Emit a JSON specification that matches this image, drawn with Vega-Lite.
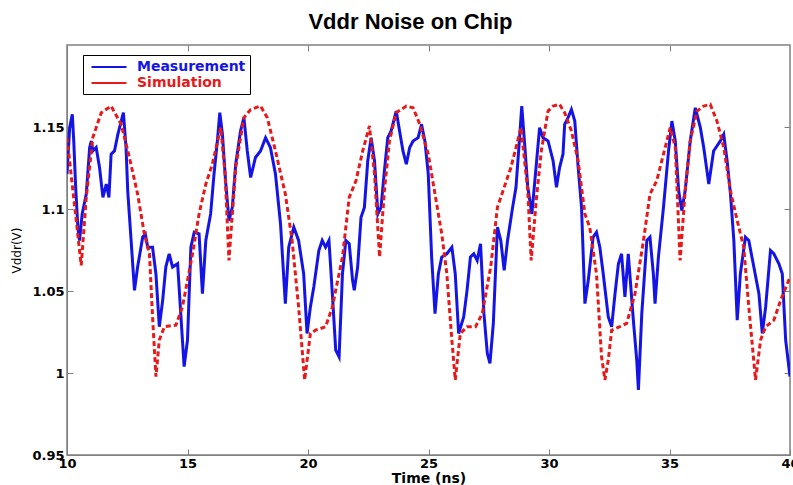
{
  "$schema": "https://vega.github.io/schema/vega-lite/v6.json",
  "width": 723,
  "height": 410,
  "autosize": {"type": "none"},
  "padding": {"left": 67, "top": 45, "right": 3, "bottom": 30},
  "background": "white",
  "title": {"text": "Vddr Noise on Chip", "font": "Liberation Sans", "fontSize": 22, "fontWeight": "bold", "color": "black", "offset": 11, "dx": -18},
  "config": {"view": {"stroke": "#808080", "strokeWidth": 1.5}},
  "datasets": {
    "sim": [
      {"t":10.00,"v":1.1435},{"t":10.59,"v":1.0656},{"t":10.80,"v":1.1071},{"t":11.07,"v":1.1435},{"t":11.42,"v":1.1587},{"t":11.83,"v":1.1628},{"t":12.25,"v":1.1516},{"t":12.59,"v":1.1314},{"t":12.93,"v":1.1091},{"t":13.21,"v":1.0848},{"t":13.42,"v":1.0727},{"t":13.55,"v":1.0342},{"t":13.69,"v":0.9978},{"t":13.83,"v":1.0201},{"t":14.04,"v":1.0282},{"t":14.52,"v":1.0292},{"t":14.79,"v":1.0403},{"t":15.21,"v":1.0727},{"t":15.48,"v":1.0970},{"t":15.76,"v":1.1152},{"t":16.03,"v":1.1273},{"t":16.38,"v":1.1496},{"t":16.56,"v":1.1213},{"t":16.72,"v":1.0686},{"t":17.00,"v":1.1253},{"t":17.34,"v":1.1557},{"t":17.62,"v":1.1607},{"t":18.03,"v":1.1628},{"t":18.31,"v":1.1557},{"t":18.65,"v":1.1354},{"t":19.06,"v":1.1091},{"t":19.34,"v":1.0808},{"t":19.61,"v":1.0403},{"t":19.86,"v":0.9958},
      {"t":20.10,"v":1.0241},{"t":20.31,"v":1.0261},{"t":20.73,"v":1.0282},{"t":21.01,"v":1.0403},{"t":21.43,"v":1.0707},{"t":21.71,"v":1.1071},{"t":21.99,"v":1.1172},{"t":22.27,"v":1.1354},{"t":22.55,"v":1.1506},{"t":22.76,"v":1.1213},{"t":22.97,"v":1.0707},{"t":23.17,"v":1.1111},{"t":23.38,"v":1.1415},{"t":23.66,"v":1.1587},{"t":24.08,"v":1.1628},{"t":24.36,"v":1.1617},{"t":24.64,"v":1.1516},{"t":24.99,"v":1.1334},{"t":25.27,"v":1.1091},{"t":25.55,"v":1.0848},{"t":25.76,"v":1.0605},{"t":25.97,"v":1.0201},{"t":26.11,"v":0.9958},{"t":26.32,"v":1.0241},{"t":26.60,"v":1.0282},{"t":26.95,"v":1.0282},{"t":27.23,"v":1.0362},{"t":27.58,"v":1.0646},{"t":27.86,"v":1.1010},{"t":28.14,"v":1.1132},{"t":28.42,"v":1.1253},{"t":28.84,"v":1.1496},{"t":29.12,"v":1.1111},{"t":29.26,"v":1.0686},{"t":29.47,"v":1.1051},{"t":29.68,"v":1.1354},{"t":29.96,"v":1.1597},
      {"t":30.17,"v":1.1628},{"t":30.44,"v":1.1638},{"t":30.65,"v":1.1587},{"t":30.93,"v":1.1476},{"t":31.21,"v":1.1294},{"t":31.49,"v":1.0970},{"t":31.69,"v":1.0889},{"t":31.97,"v":1.0605},{"t":32.18,"v":1.0099},{"t":32.32,"v":0.9958},{"t":32.46,"v":1.0079},{"t":32.60,"v":1.0261},{"t":32.94,"v":1.0282},{"t":33.22,"v":1.0302},{"t":33.57,"v":1.0484},{"t":33.92,"v":1.0808},{"t":34.19,"v":1.1091},{"t":34.47,"v":1.1172},{"t":34.75,"v":1.1334},{"t":35.03,"v":1.1496},{"t":35.24,"v":1.1375},{"t":35.44,"v":1.0686},{"t":35.65,"v":1.1111},{"t":35.86,"v":1.1415},{"t":36.14,"v":1.1597},{"t":36.42,"v":1.1628},{"t":36.69,"v":1.1638},{"t":36.97,"v":1.1536},{"t":37.25,"v":1.1375},{"t":37.53,"v":1.1111},{"t":37.81,"v":1.0929},{"t":38.08,"v":1.0767},{"t":38.29,"v":1.0403},{"t":38.57,"v":0.9958},{"t":38.78,"v":1.0201},{"t":38.99,"v":1.0282},{"t":39.33,"v":1.0322},{"t":39.61,"v":1.0443},{"t":40.00,"v":1.0585}
    ],
    "meas": [
      {"t":10.00,"v":1.1213},{"t":10.11,"v":1.1496},{"t":10.22,"v":1.1577},{"t":10.28,"v":1.1415},{"t":10.36,"v":1.1132},{"t":10.45,"v":1.0889},{"t":10.52,"v":1.0808},{"t":10.63,"v":1.0970},{"t":10.80,"v":1.1091},{"t":10.94,"v":1.1375},{"t":11.01,"v":1.1415},{"t":11.07,"v":1.1354},{"t":11.21,"v":1.1375},{"t":11.35,"v":1.1253},{"t":11.49,"v":1.1071},{"t":11.63,"v":1.1152},{"t":11.74,"v":1.1071},{"t":11.83,"v":1.1334},{"t":11.97,"v":1.1354},{"t":12.11,"v":1.1455},{"t":12.25,"v":1.1536},{"t":12.34,"v":1.1587},{"t":12.45,"v":1.1375},{"t":12.52,"v":1.1111},{"t":12.66,"v":1.0808},{"t":12.80,"v":1.0504},{"t":12.93,"v":1.0646},{"t":13.14,"v":1.0828},{"t":13.25,"v":1.0848},{"t":13.35,"v":1.0767},{"t":13.55,"v":1.0767},{"t":13.69,"v":1.0605},{"t":13.83,"v":1.0282},{"t":13.97,"v":1.0443},{"t":14.10,"v":1.0646},{"t":14.24,"v":1.0727},{"t":14.38,"v":1.0646},{"t":14.59,"v":1.0666},{"t":14.72,"v":1.0362},{"t":14.86,"v":1.0039},{"t":15.00,"v":1.0201},{"t":15.14,"v":1.0767},{"t":15.28,"v":1.0858},{"t":15.48,"v":1.0848},{"t":15.62,"v":1.0484},{"t":15.76,"v":1.0808},{"t":15.96,"v":1.0970},{"t":16.10,"v":1.1213},{"t":16.24,"v":1.1415},{"t":16.34,"v":1.1587},{"t":16.45,"v":1.1455},{"t":16.58,"v":1.1172},{"t":16.72,"v":1.0929},{"t":16.86,"v":1.1010},{"t":17.00,"v":1.1273},{"t":17.20,"v":1.1476},{"t":17.34,"v":1.1557},{"t":17.48,"v":1.1354},{"t":17.62,"v":1.1192},{"t":17.82,"v":1.1314},{"t":18.03,"v":1.1354},{"t":18.24,"v":1.1435},{"t":18.44,"v":1.1375},{"t":18.65,"v":1.1213},{"t":18.86,"v":1.0909},{"t":19.06,"v":1.0423},{"t":19.20,"v":1.0767},{"t":19.41,"v":1.0889},{"t":19.61,"v":1.0808},{"t":19.82,"v":1.0605},{"t":19.96,"v":1.0241},
      {"t":20.10,"v":1.0403},{"t":20.24,"v":1.0524},{"t":20.45,"v":1.0747},{"t":20.59,"v":1.0808},{"t":20.73,"v":1.0767},{"t":20.87,"v":1.0808},{"t":21.01,"v":1.0484},{"t":21.15,"v":1.0140},{"t":21.29,"v":1.0099},{"t":21.43,"v":1.0605},{"t":21.57,"v":1.0808},{"t":21.71,"v":1.0788},{"t":21.85,"v":1.0565},{"t":21.92,"v":1.0504},{"t":22.06,"v":1.0646},{"t":22.20,"v":1.0949},{"t":22.34,"v":1.1010},{"t":22.48,"v":1.1294},{"t":22.62,"v":1.1435},{"t":22.76,"v":1.1294},{"t":22.90,"v":1.0970},{"t":23.03,"v":1.1010},{"t":23.17,"v":1.1233},{"t":23.31,"v":1.1435},{"t":23.45,"v":1.1476},{"t":23.66,"v":1.1597},{"t":23.80,"v":1.1476},{"t":23.94,"v":1.1354},{"t":24.08,"v":1.1273},{"t":24.22,"v":1.1375},{"t":24.36,"v":1.1415},{"t":24.57,"v":1.1435},{"t":24.71,"v":1.1516},{"t":24.85,"v":1.1415},{"t":24.99,"v":1.1213},{"t":25.13,"v":1.0707},{"t":25.27,"v":1.0362},{"t":25.41,"v":1.0605},{"t":25.55,"v":1.0707},{"t":25.76,"v":1.0727},{"t":25.97,"v":1.0767},{"t":26.11,"v":1.0605},{"t":26.25,"v":1.0241},{"t":26.46,"v":1.0342},{"t":26.60,"v":1.0504},{"t":26.74,"v":1.0707},{"t":26.88,"v":1.0727},{"t":27.02,"v":1.0686},{"t":27.16,"v":1.0788},{"t":27.30,"v":1.0362},{"t":27.44,"v":1.0120},{"t":27.55,"v":1.0059},{"t":27.69,"v":1.0302},{"t":27.86,"v":1.0889},{"t":28.00,"v":1.0808},{"t":28.14,"v":1.0626},{"t":28.28,"v":1.0808},{"t":28.49,"v":1.1010},{"t":28.63,"v":1.1132},{"t":28.77,"v":1.1415},{"t":28.87,"v":1.1628},{"t":28.98,"v":1.1415},{"t":29.12,"v":1.1132},{"t":29.29,"v":1.0970},{"t":29.40,"v":1.1152},{"t":29.61,"v":1.1496},{"t":29.75,"v":1.1435},{"t":29.96,"v":1.1415},
      {"t":30.03,"v":1.1375},{"t":30.17,"v":1.1294},{"t":30.31,"v":1.1132},{"t":30.44,"v":1.1253},{"t":30.58,"v":1.1334},{"t":30.65,"v":1.1516},{"t":30.79,"v":1.1557},{"t":30.93,"v":1.1607},{"t":31.07,"v":1.1536},{"t":31.21,"v":1.1253},{"t":31.35,"v":1.1010},{"t":31.49,"v":1.0423},{"t":31.63,"v":1.0565},{"t":31.83,"v":1.0828},{"t":31.97,"v":1.0858},{"t":32.11,"v":1.0767},{"t":32.25,"v":1.0605},{"t":32.46,"v":1.0342},{"t":32.60,"v":1.0282},{"t":32.74,"v":1.0484},{"t":32.88,"v":1.0666},{"t":33.01,"v":1.0727},{"t":33.15,"v":1.0464},{"t":33.29,"v":1.0727},{"t":33.50,"v":1.0322},{"t":33.64,"v":1.0079},{"t":33.71,"v":0.9897},{"t":33.85,"v":1.0362},{"t":34.06,"v":1.0808},{"t":34.19,"v":1.0828},{"t":34.33,"v":1.0605},{"t":34.40,"v":1.0423},{"t":34.54,"v":1.0707},{"t":34.75,"v":1.1010},{"t":34.96,"v":1.1354},{"t":35.10,"v":1.1536},{"t":35.24,"v":1.1415},{"t":35.38,"v":1.1111},{"t":35.51,"v":1.0990},{"t":35.65,"v":1.1111},{"t":35.86,"v":1.1415},{"t":36.07,"v":1.1617},{"t":36.28,"v":1.1496},{"t":36.42,"v":1.1375},{"t":36.63,"v":1.1152},{"t":36.83,"v":1.1354},{"t":37.11,"v":1.1415},{"t":37.25,"v":1.1455},{"t":37.39,"v":1.1294},{"t":37.53,"v":1.1091},{"t":37.67,"v":1.0808},{"t":37.81,"v":1.0322},{"t":37.94,"v":1.0605},{"t":38.15,"v":1.0828},{"t":38.29,"v":1.0808},{"t":38.50,"v":1.0646},{"t":38.71,"v":1.0484},{"t":38.85,"v":1.0241},{"t":38.99,"v":1.0403},{"t":39.19,"v":1.0747},{"t":39.33,"v":1.0727},{"t":39.54,"v":1.0666},{"t":39.68,"v":1.0605},{"t":39.82,"v":1.0201},{"t":40.00,"v":0.9978}
    ]
  },
  "layer": [
    {
      "data": {"name": "meas"},
      "transform": [{"calculate": "'Measurement'", "as": "series"}],
      "mark": {"type": "line", "strokeWidth": 3, "clip": true},
      "encoding": {
        "x": {"field": "t", "type": "quantitative", "scale": {"domain": [10, 40], "nice": false}, "axis": {"orient": "bottom", "values": [10,15,20,25,30,35,40], "format": "d", "title": "Time (ns)", "tickSize": -6, "tickColor": "#808080", "domainColor": "#808080", "labelPadding": 8, "labelFont": "DejaVu Sans", "labelFontWeight": "bold", "labelFontSize": 13, "labelColor": "black", "titleFont": "DejaVu Sans", "titleFontWeight": "bold", "titleFontSize": 14, "titleColor": "black", "titlePadding": 1, "grid": false, "labelFlush": false}},
        "y": {"field": "v", "type": "quantitative", "scale": {"domain": [0.95, 1.2], "nice": false, "zero": false}, "axis": {"orient": "left", "values": [0.95, 1, 1.05, 1.1, 1.15], "format": ".2~f", "title": "Vddr(V)", "tickSize": -6, "tickColor": "#808080", "domainColor": "#808080", "labelPadding": 9, "labelFont": "DejaVu Sans", "labelFontWeight": "bold", "labelFontSize": 13, "labelColor": "black", "titleFont": "DejaVu Sans", "titleFontWeight": "normal", "titleFontSize": 12, "titleColor": "black", "titlePadding": 8, "grid": false, "labelFlush": false}},
        "color": {"field": "series", "type": "nominal", "scale": {"domain": ["Measurement", "Simulation"], "range": ["#1414e6", "#e61a1a"]}, "legend": {
          "orient": "none", "legendX": 16, "legendY": 10, "title": null, "strokeColor": "black", "fillColor": "white", "padding": 4,
          "symbolType": "M-2.5,0H2.5", "symbolSize": 196, "symbolOffset": 14, "symbolStrokeWidth": 2, "labelFont": "DejaVu Sans", "labelFontWeight": "bold", "labelFontSize": 14, "rowPadding": 1, "labelOffset": 20, "labelLimit": 260,
          "labelExpr": "datum.label + '\u00a0\u00a0\u00a0'",
          "encode": {"labels": {"update": {"fill": {"signal": "datum.value === 'Measurement' ? '#1414e6' : '#e61a1a'"}}}}
        }}
      }
    },
    {
      "data": {"name": "sim"},
      "transform": [{"calculate": "'Simulation'", "as": "series"}],
      "mark": {"type": "line", "strokeWidth": 3, "strokeDash": [5, 3], "clip": true},
      "encoding": {
        "x": {"field": "t", "type": "quantitative", "axis": null},
        "y": {"field": "v", "type": "quantitative", "axis": null},
        "color": {"field": "series", "type": "nominal"}
      }
    },
    {
      "data": {"name": "meas"},
      "mark": {"type": "line", "strokeOpacity": 0},
      "encoding": {
        "x": {"field": "t", "type": "quantitative", "axis": {"orient": "top", "values": [15,20,25,30,35], "labels": false, "title": null, "tickSize": -6, "tickColor": "#808080", "domain": false, "grid": false}},
        "y": {"field": "v", "type": "quantitative", "axis": {"orient": "right", "values": [1, 1.05, 1.1, 1.15], "labels": false, "title": null, "tickSize": -6, "tickColor": "#808080", "domain": false, "grid": false}}
      }
    }
  ],
  "resolve": {"axis": {"x": "independent", "y": "independent"}}
}
